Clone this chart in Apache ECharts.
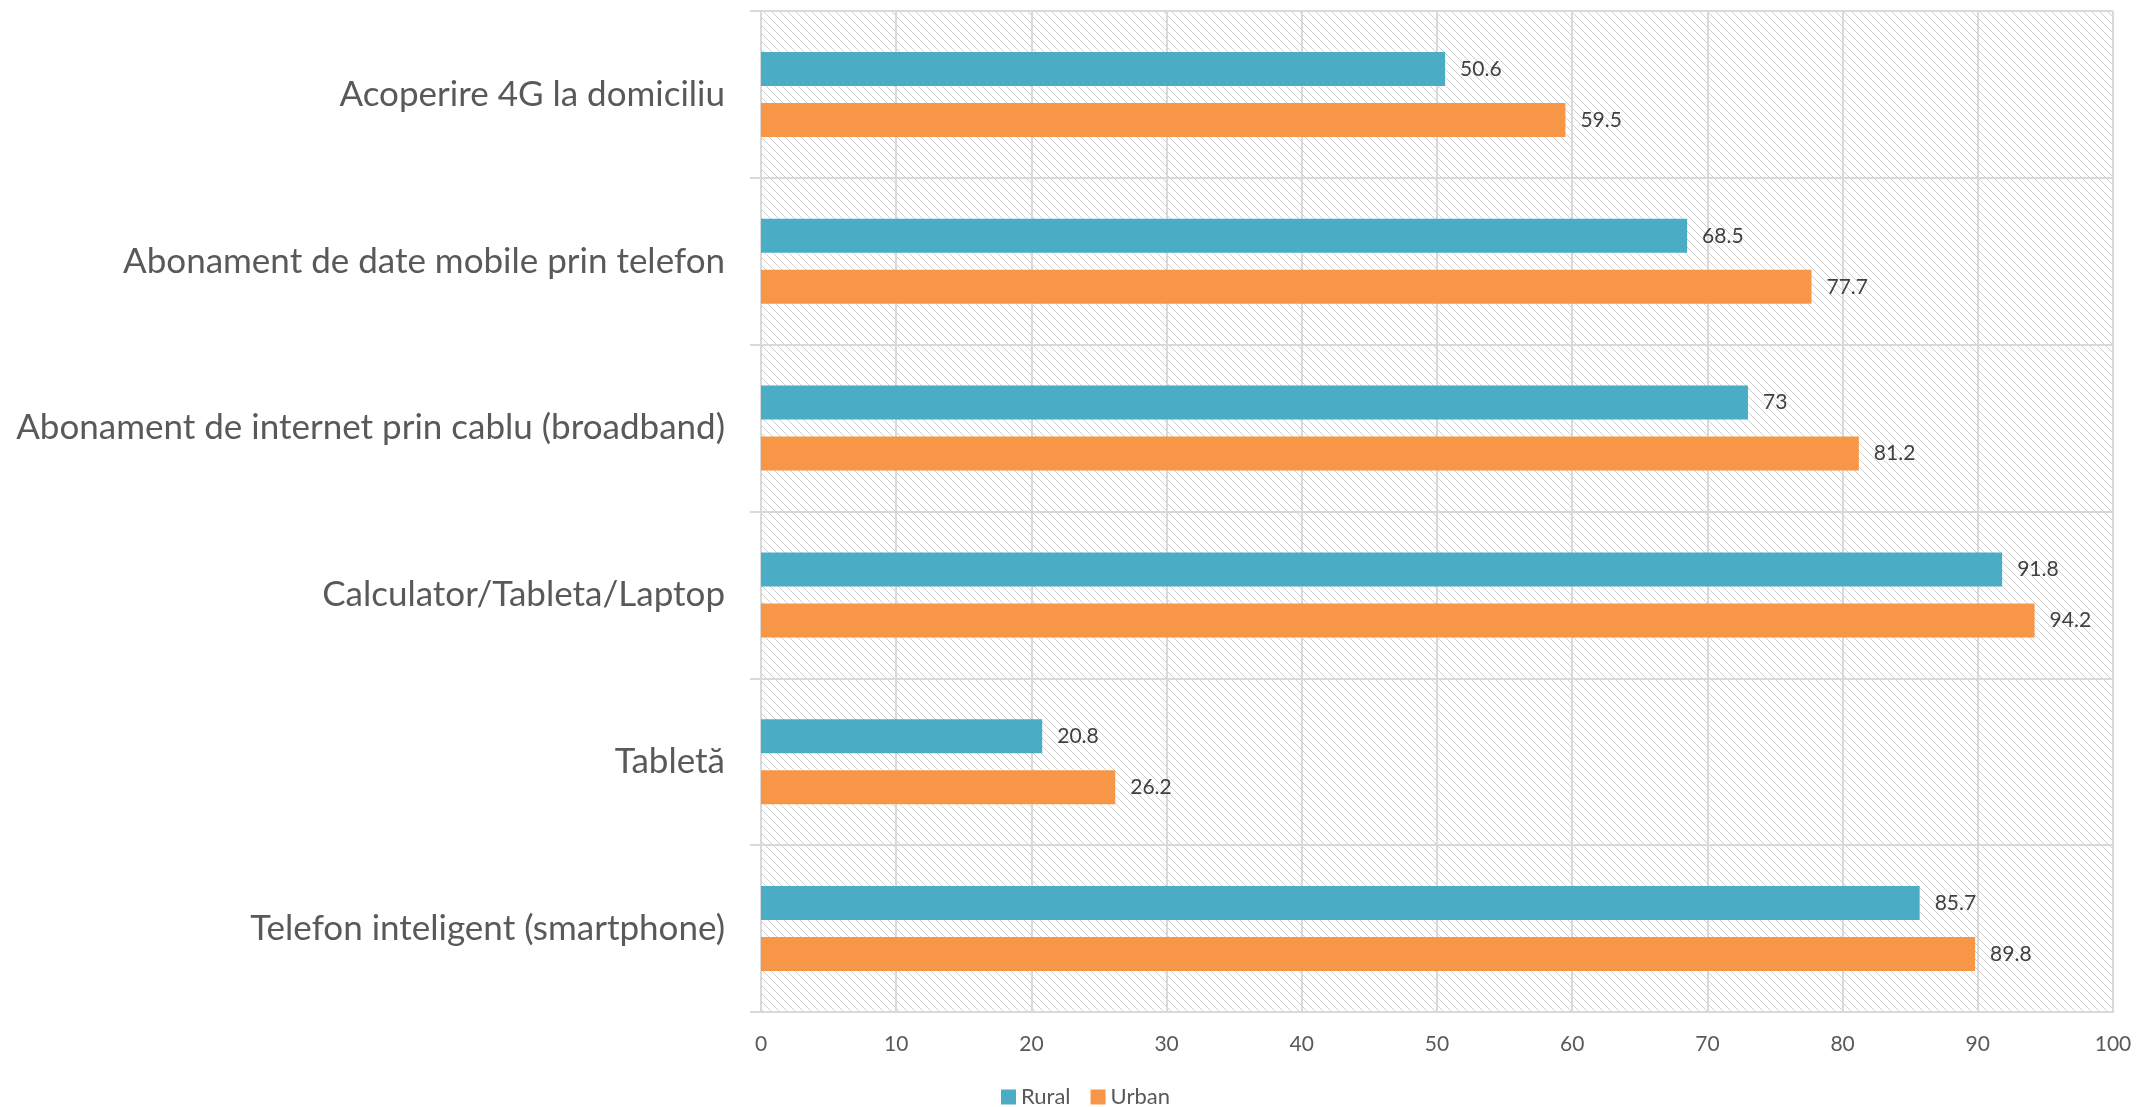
<!DOCTYPE html>
<html>
<head>
<meta charset="utf-8">
<style>
  html, body { margin: 0; padding: 0; background: #ffffff; }
  #chart { width: 2136px; height: 1107px; }
</style>
<script src="https://cdn.jsdelivr.net/npm/echarts@6/dist/echarts.min.js"></script>
</head>
<body>
<div id="chart"></div>
<script>
const categories = [
  'Acoperire 4G la domiciliu',
  'Abonament de date mobile prin telefon',
  'Abonament de internet prin cablu (broadband)',
  'Calculator/Tableta/Laptop',
  'Tabletă',
  'Telefon inteligent (smartphone)'
];
const seriesNames = ['Rural', 'Urban'];
const ruralValues = [50.6, 68.5, 73, 91.8, 20.8, 85.7];
const urbanValues = [59.5, 77.7, 81.2, 94.2, 26.2, 89.8];
const xTicks = { min: 0, max: 100, interval: 10 };

// hatch pattern for plot background
const tile = document.createElement('canvas');
tile.width = 8; tile.height = 8;
const ctx = tile.getContext('2d');
ctx.fillStyle = '#ffffff';
ctx.fillRect(0, 0, 8, 8);
ctx.strokeStyle = '#cfcfcf';
ctx.lineWidth = 1;
ctx.beginPath();
ctx.moveTo(-1, -1); ctx.lineTo(9, 9);
ctx.moveTo(-9, -1); ctx.lineTo(1, 9);
ctx.moveTo(7, -1); ctx.lineTo(17, 9);
ctx.stroke();

const chart = echarts.init(document.getElementById('chart'), null, { renderer: 'canvas' });
const fontFam = 'Lato, "Open Sans", sans-serif';
const labelStyle = {
  show: true, position: 'right', distance: 15,
  color: '#404040', fontSize: 21, fontFamily: fontFam
};
chart.setOption({
  animation: false,
  backgroundColor: '#ffffff',
  grid: {
    left: 761, right: 23, top: 11, bottom: 95,
    show: true, borderWidth: 0,
    backgroundColor: { image: tile, repeat: 'repeat' }
  },
  legend: {
    data: seriesNames,
    left: 996, top: 1081,
    itemWidth: 15, itemHeight: 15, itemGap: 20,
    icon: 'rect',
    textStyle: { color: '#595959', fontSize: 22, fontFamily: fontFam }
  },
  xAxis: {
    type: 'value',
    min: xTicks.min, max: xTicks.max, interval: xTicks.interval,
    axisLine: { show: true, lineStyle: { color: '#d9d9d9', width: 2 } },
    axisTick: { show: false },
    splitLine: { show: true, lineStyle: { color: '#d9d9d9', width: 2 } },
    axisLabel: { color: '#595959', fontSize: 21, fontFamily: fontFam, margin: 22 }
  },
  yAxis: {
    type: 'category',
    inverse: true,
    data: categories,
    axisLine: { show: true, lineStyle: { color: '#d9d9d9', width: 2 } },
    axisTick: { show: true, length: 11, lineStyle: { color: '#d9d9d9', width: 2 } },
    splitLine: { show: true, lineStyle: { color: '#d9d9d9', width: 2 } },
    axisLabel: { color: '#595959', fontSize: 35, fontFamily: fontFam, margin: 36 }
  },
  series: [
    {
      name: 'Rural', type: 'bar', data: ruralValues,
      barWidth: 34, barGap: '50%',
      itemStyle: { color: '#4bacc6' },
      label: labelStyle
    },
    {
      name: 'Urban', type: 'bar', data: urbanValues,
      barWidth: 34, barGap: '50%',
      itemStyle: { color: '#f79646' },
      label: labelStyle
    }
  ]
});
</script>
</body>
</html>
